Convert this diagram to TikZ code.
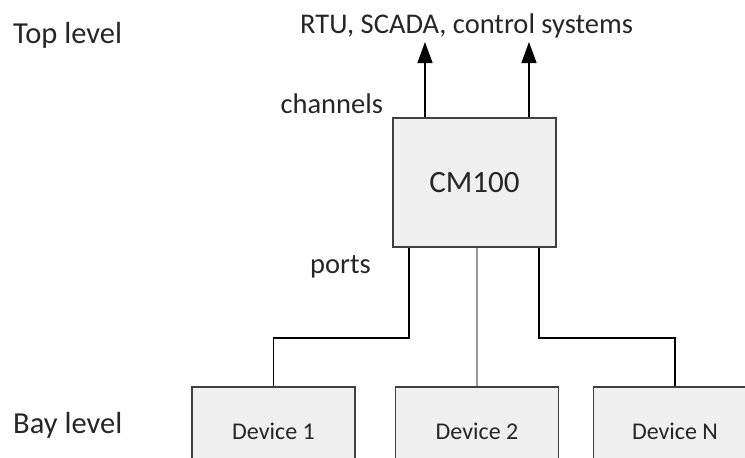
\documentclass[tikz,border=0pt]{standalone}
\usepackage{fontspec}
\setmainfont{Carlito}
\usetikzlibrary{positioning}
\usetikzlibrary{arrows.meta}
\definecolor{boxfill}{HTML}{F0F0F0}
\definecolor{boxline}{HTML}{404040}
\definecolor{textgray}{HTML}{262626}
\definecolor{portgray}{HTML}{999999}
\begin{document}
\begin{tikzpicture}[%
x=1pt, y=-1pt,
every node/.style={text=textgray, inner sep=0pt},
unit/.style={draw=boxline, fill=boxfill, line width=1.5pt},
device/.style={unit, minimum width=163pt, minimum height=90pt, anchor=north,
  font=\fontsize{24}{28}\selectfont},
levellabel/.style={anchor=base west, font=\fontsize{30.5}{36}\selectfont},
smalllabel/.style={anchor=base west, font=\fontsize{28.5}{34}\selectfont},
channel/.style={black, line width=1.3pt, -{Triangle[width=15pt,length=21pt]}},
port/.style={black, line width=1.3pt},
midport/.style={portgray, line width=2.5pt}]
\clip (0,0) rectangle (745,458);
\node [levellabel] (toplevel) at (13,43)  {Top level};
\node [levellabel] (baylevel) at (13,433) {Bay level};
\node [smalllabel] (systems)  at (300,33)  {RTU, SCADA, control systems};
\node [unit, minimum width=163pt, minimum height=129pt,
  font=\fontsize{31}{36}\selectfont] (cm) at (474.5,182.5) {CM100};
\node [smalllabel] (channels) [above left=4pt and 9pt of cm.north west, anchor=base east] {channels};
\node [smalllabel] (ports)    at (310,273) {ports};
\node [device] (dev1) at (273.5,386) {Device 1};
\node [device] (dev2) at (477,386)   {Device 2};
\node [device] (devN) at (675,386)   {Device N};
\coordinate (sys1) at (425,42);
\coordinate (sys2) at (529,42);
\coordinate (p1) at (409,338);
\coordinate (p3) at (539,338);
\draw [channel] (sys1 |- cm.north) -- (sys1);
\draw [channel] (sys2 |- cm.north) -- (sys2);
\draw [port]    (p1 |- cm.south) -- (p1) -| (dev1.north);
\draw [midport] (dev2.north |- cm.south) -- (dev2.north);
\draw [port]    (p3 |- cm.south) -- (p3) -| (devN.north);
\end{tikzpicture}
\end{document}
